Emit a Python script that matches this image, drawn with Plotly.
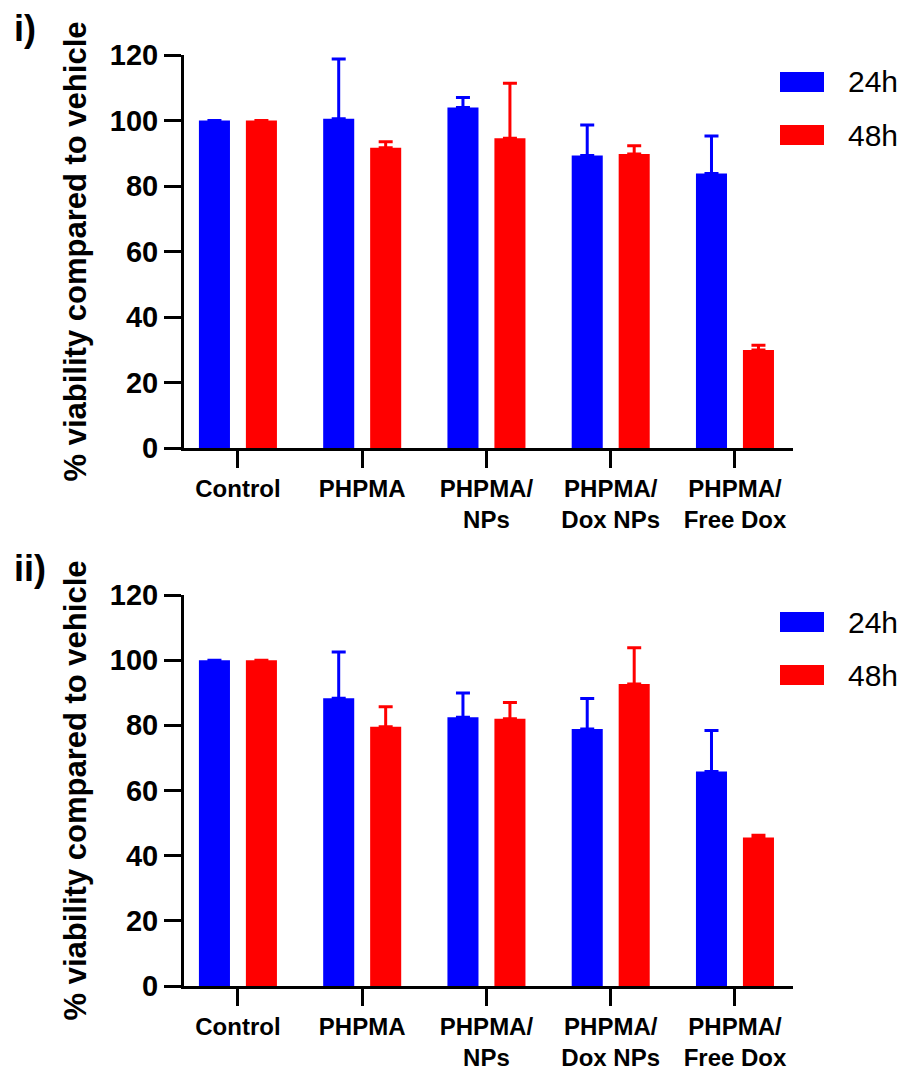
import plotly.graph_objects as go

categories = ["Control", "PHPMA", "PHPMA/<br>NPs", "PHPMA/<br>Dox NPs", "PHPMA/<br>Free Dox"]
series_names = ["24h", "48h"]
colors = ["#0000FF", "#FF0000"]

# Panel i)
i_24h = [100, 100.5, 104, 89.3, 83.8]
i_24h_err = [0, 18.3, 3.0, 9.3, 11.5]
i_48h = [100, 91.7, 94.6, 89.8, 29.9]
i_48h_err = [0, 1.8, 16.8, 2.5, 1.5]

# Panel ii)
ii_24h = [100, 88.3, 82.5, 78.9, 65.8]
ii_24h_err = [0, 14.2, 7.4, 9.3, 12.6]
ii_48h = [100, 79.6, 82.0, 92.7, 45.6]
ii_48h_err = [0, 6.1, 5.0, 11.1, 0.7]

y_ticks = [0, 20, 40, 60, 80, 100, 120]
panel_labels = ["i)", "ii)"]
y_title = "% viability compared to vehicle"

W, H = 908, 1082
FONT = "Liberation Sans, Arial, sans-serif"

fig = go.Figure()

panels = [
    (i_24h, i_24h_err, i_48h, i_48h_err, "x", "y"),
    (ii_24h, ii_24h_err, ii_48h, ii_48h_err, "x2", "y2"),
]
for vals24, err24, vals48, err48, xa, ya in panels:
    for name, vals, errs, col in [(series_names[0], vals24, err24, colors[0]),
                                  (series_names[1], vals48, err48, colors[1])]:
        fig.add_trace(go.Bar(
            x=list(range(len(categories))), y=vals, name=name,
            marker=dict(color=col, line=dict(width=0)),
            error_y=dict(type="data", symmetric=False, array=errs,
                         arrayminus=[0] * len(errs), color=col,
                         thickness=3, width=7),
            xaxis=xa, yaxis=ya, showlegend=False,
        ))

# pixel -> paper helpers (layout only)
def px(x):
    return x / W

def py(y):
    return 1 - y / H

x_dom = [px(184), px(793)]
top_dom = [py(448), py(55)]
bot_dom = [py(986), py(595)]

axis_common_x = dict(
    range=[-0.434, 4.467], tickmode="array",
    tickvals=list(range(len(categories))), ticktext=categories,
    showline=True, linecolor="black", linewidth=3,
    ticks="outside", ticklen=17, tickwidth=3, tickcolor="black",
    showgrid=False, zeroline=False, automargin=False,
    tickfont=dict(family=FONT, size=24, color="black", weight="bold"),
)
axis_common_y = dict(
    range=[0, 120], tickmode="array", tickvals=y_ticks,
    showline=True, linecolor="black", linewidth=3,
    ticks="outside", ticklen=17, tickwidth=3, tickcolor="black",
    showgrid=False, zeroline=False, automargin=False,
    tickfont=dict(family=FONT, size=29, color="black", weight="bold"),
    title=dict(text=y_title, standoff=14,
               font=dict(family=FONT, size=31, color="black", weight="bold")),
)

fig.update_layout(
    width=W, height=H,
    margin=dict(l=0, r=0, t=0, b=0),
    paper_bgcolor="white", plot_bgcolor="white",
    barmode="group", bargap=0.244, bargroupgap=0.339,
    xaxis=dict(domain=x_dom, anchor="y", **axis_common_x),
    yaxis=dict(domain=top_dom, anchor="x", **axis_common_y),
    xaxis2=dict(domain=x_dom, anchor="y2", **axis_common_x),
    yaxis2=dict(domain=bot_dom, anchor="x2", **axis_common_y),
    showlegend=False,
)

# Panel labels
for lbl, ytop in zip(panel_labels, [6, 546]):
    fig.add_annotation(text=lbl, xref="paper", yref="paper",
                       x=px(12), y=py(ytop), xanchor="left", yanchor="top",
                       showarrow=False,
                       font=dict(family=FONT, size=36, color="black", weight="bold"))

# Custom legends
legend_rows = [[(72, 92), (125, 145)], [(612, 632), (665, 685)]]
for rows in legend_rows:
    for (y0, y1), name, col in zip(rows, series_names, colors):
        fig.add_shape(type="rect", xref="paper", yref="paper",
                      x0=px(780), x1=px(824), y0=py(y1), y1=py(y0),
                      fillcolor=col, line=dict(width=0))
        fig.add_annotation(text=name, xref="paper", yref="paper",
                           x=px(846), y=py((y0 + y1) / 2), xanchor="left",
                           yanchor="middle", showarrow=False,
                           font=dict(family=FONT, size=30, color="black"))

fig.write_html("out.html")
